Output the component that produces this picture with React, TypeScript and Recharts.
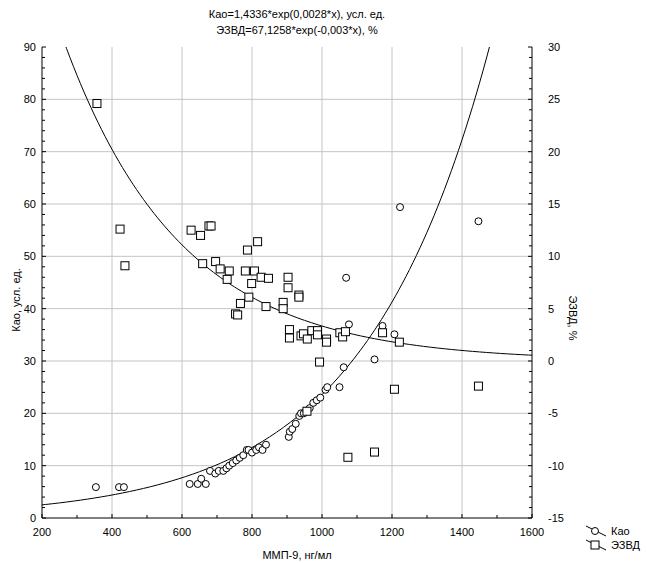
import React from 'react'
import { ScatterChart, Scatter, XAxis, YAxis, ReferenceLine } from 'recharts'

// Кao (left axis) measurements
const kaoMmp = [354, 420, 434, 622, 645, 655, 668, 680, 695, 705, 718, 727, 735, 745, 755, 765, 775, 785, 790, 800, 812, 820, 830, 840, 905, 908, 915, 925, 935, 940, 948, 955, 965, 975, 985, 995, 1010, 1015, 1050, 1062, 1069, 1077, 1150, 1173, 1207, 1223, 1447]
const kaoValues = [5.9, 5.9, 5.9, 6.5, 6.5, 7.5, 6.5, 9, 8.5, 9, 9, 9.5, 10, 10.5, 11, 11.5, 12, 13, 13, 12.5, 13, 13.5, 13, 14, 15.5, 16.5, 17, 18, 19.5, 20, 20, 20.5, 21, 22, 22.5, 23, 24.5, 25, 25, 28.8, 45.9, 37, 30.3, 36.7, 35.1, 59.4, 56.7]

// ЭЗВД (right axis) measurements
const ezvdMmp = [357, 423, 437, 626, 653, 677, 683, 816, 787, 696, 659, 709, 735, 729, 781, 807, 799, 826, 847, 903, 903, 934, 934, 791, 767, 889, 889, 840, 753, 759, 907, 907, 940, 947, 958, 971, 987, 987, 1013, 1013, 1051, 1059, 1067, 1173, 1221, 993, 957, 1074, 1150, 1207, 1447]
const ezvdValues = [24.6, 12.6, 9.1, 12.5, 12.0, 12.9, 12.9, 11.4, 10.6, 9.5, 9.3, 8.8, 8.6, 7.8, 8.6, 8.6, 7.4, 8.0, 7.9, 8.0, 7.0, 6.3, 6.1, 6.1, 5.5, 5.6, 5.0, 5.2, 4.5, 4.4, 3.0, 2.2, 2.4, 2.6, 2.1, 2.9, 2.9, 2.5, 2.1, 1.8, 2.7, 2.3, 2.8, 2.7, 1.8, -0.1, -4.8, -9.2, -8.7, -2.7, -2.4]

// fitted models from the title
const kaoFit = { a: 1.4336, b: 0.0028 }
const ezvdFit = { a: 67.1258, b: -0.003 }
const fitX = Array.from({ length: 141 }, (_, i) => 200 + i * 10)

const xTicks = Array.from({ length: 15 }, (_, i) => 200 + i * 100)
const leftTicks = Array.from({ length: 46 }, (_, i) => i * 2)
const rightTicks = Array.from({ length: 46 }, (_, i) => -15 + i)
const xGrid = [400, 600, 800, 1000, 1200, 1400]
const yGrid = [10, 20, 30, 40, 50, 60, 70, 80]

const kaoData = kaoMmp.map((x, i) => ({ x, y: kaoValues[i] }))
const ezvdData = ezvdMmp.map((x, i) => ({ x, y: ezvdValues[i] }))
const kaoCurve = fitX.map(x => ({ x, y: kaoFit.a * Math.exp(kaoFit.b * x) }))
const ezvdCurve = fitX.map(x => ({ x, y: ezvdFit.a * Math.exp(ezvdFit.b * x) }))

const FONT = '"Liberation Sans", Arial, sans-serif'

const BottomTick = (props: any) => {
  const { x, y, payload } = props
  const major = payload.value % 200 === 0
  return (
    <g>
      <line x1={x} x2={x} y1={y} y2={y - (major ? 4 : 3)} stroke="#000" />
      {major && (
        <text x={x} y={y + 18} textAnchor="middle" fontSize={11} fontFamily={FONT} fill="#000">{payload.value}</text>
      )}
    </g>
  )
}

const TopTick = (props: any) => {
  const { x, y } = props
  return <line x1={x} x2={x} y1={y} y2={y + 3} stroke="#000" />
}

const LeftTick = (props: any) => {
  const { x, y, payload } = props
  const major = payload.value % 10 === 0
  return (
    <g>
      <line x1={x} x2={x + (major ? 4 : 3)} y1={y} y2={y} stroke="#000" />
      {major && (
        <text x={x - 6} y={y + 4} textAnchor="end" fontSize={11} fontFamily={FONT} fill="#000">{payload.value}</text>
      )}
    </g>
  )
}

const RightTick = (props: any) => {
  const { x, y, payload } = props
  const major = payload.value % 5 === 0
  return (
    <g>
      <line x1={x} x2={x - (major ? 4 : 3)} y1={y} y2={y} stroke="#000" />
      {major && (
        <text x={x + 16} y={y + 4} textAnchor="start" fontSize={11} fontFamily={FONT} fill="#000">{payload.value}</text>
      )}
    </g>
  )
}

const OpenCircle = (props: any) => (
  <circle cx={props.cx} cy={props.cy} r={3.5} fill="#fff" stroke="#000" strokeWidth={1} />
)

const OpenSquare = (props: any) => (
  <rect x={props.cx - 4} y={props.cy - 4} width={8} height={8} fill="#fff" stroke="#000" strokeWidth={1} />
)

const NoDot = () => <g />

function LegendBox() {
  return (
    <div style={{ position: 'absolute', left: 584, top: 524, fontFamily: FONT, fontSize: 11 }}>
      <div style={{ display: 'flex', alignItems: 'center', height: 14 }}>
        <svg width={24} height={14}>
          <line x1={2} y1={2} x2={22} y2={12} stroke="#000" />
          <circle cx={11} cy={7} r={3.5} fill="#fff" stroke="#000" />
        </svg>
        <span style={{ marginLeft: 3 }}>Као</span>
      </div>
      <div style={{ display: 'flex', alignItems: 'center', height: 14 }}>
        <svg width={24} height={14}>
          <line x1={2} y1={2} x2={22} y2={12} stroke="#000" />
          <rect x={7} y={3} width={8} height={8} fill="#fff" stroke="#000" />
        </svg>
        <span style={{ marginLeft: 3 }}>ЭЗВД</span>
      </div>
    </div>
  )
}

export default function App() {
  return (
    <div style={{ position: 'absolute', left: 0, top: 0, width: 646, height: 563, background: '#fff', fontFamily: FONT }}>
      <div style={{ position: 'absolute', left: 0, width: 594, top: 6, textAlign: 'center', fontSize: 11, lineHeight: '16px' }}>
        <div>Као=1,4336*exp(0,0028*x), усл. ед.</div>
        <div>ЭЗВД=67,1258*exp(-0,003*x), %</div>
      </div>
      <ScatterChart width={646} height={563} margin={{ top: 47, right: 74, bottom: 0, left: 0 }}>
        <XAxis xAxisId="bottom" type="number" dataKey="x" domain={[200, 1600]} ticks={xTicks} interval={0}
          allowDataOverflow height={45} tickSize={0} tickMargin={0} tickLine={false} tick={<BottomTick />}
          axisLine={{ stroke: '#000' }} />
        <XAxis xAxisId="top" orientation="top" type="number" dataKey="x" domain={[200, 1600]} ticks={xTicks} interval={0}
          allowDataOverflow height={0} tickSize={0} tickMargin={0} tickLine={false} tick={<TopTick />}
          axisLine={{ stroke: '#000' }} />
        <YAxis yAxisId="left" type="number" dataKey="y" domain={[0, 90]} ticks={leftTicks} interval={0}
          allowDataOverflow width={42} tickSize={0} tickMargin={0} tickLine={false} tick={<LeftTick />}
          axisLine={{ stroke: '#000' }} />
        <YAxis yAxisId="right" orientation="right" type="number" dataKey="y" domain={[-15, 30]} ticks={rightTicks} interval={0}
          allowDataOverflow width={40} tickSize={0} tickMargin={0} tickLine={false} tick={<RightTick />}
          axisLine={{ stroke: '#000' }} />
        {xGrid.map(v => (
          <ReferenceLine key={'gx' + v} xAxisId="bottom" yAxisId="left" x={v} stroke="#c4c4c4" strokeWidth={1} />
        ))}
        {yGrid.map(v => (
          <ReferenceLine key={'gy' + v} xAxisId="bottom" yAxisId="left" y={v} stroke="#c4c4c4" strokeWidth={1} />
        ))}
        <Scatter name="Као fit" data={kaoCurve} xAxisId="top" yAxisId="left" line={{ stroke: '#000', strokeWidth: 1 }}
          lineType="joint" shape={<NoDot />} isAnimationActive={false} />
        <Scatter name="ЭЗВД fit" data={ezvdCurve} xAxisId="bottom" yAxisId="right" line={{ stroke: '#000', strokeWidth: 1 }}
          lineType="joint" shape={<NoDot />} isAnimationActive={false} />
        <Scatter name="Као" data={kaoData} xAxisId="bottom" yAxisId="left" shape={<OpenCircle />} isAnimationActive={false} />
        <Scatter name="ЭЗВД" data={ezvdData} xAxisId="bottom" yAxisId="right" shape={<OpenSquare />} isAnimationActive={false} />
      </ScatterChart>
      <div style={{ position: 'absolute', left: 0, width: 594, top: 549, textAlign: 'center', fontSize: 11 }}>ММП-9, нг/мл</div>
      <div style={{ position: 'absolute', left: 16, top: 300, fontSize: 11, whiteSpace: 'nowrap', transform: 'translate(-50%, -50%) rotate(-90deg)' }}>Као, усл. ед.</div>
      <div style={{ position: 'absolute', left: 573, top: 318, fontSize: 11, whiteSpace: 'nowrap', transform: 'translate(-50%, -50%) rotate(90deg)' }}>ЭЗВД, %</div>
      <LegendBox />
    </div>
  )
}
